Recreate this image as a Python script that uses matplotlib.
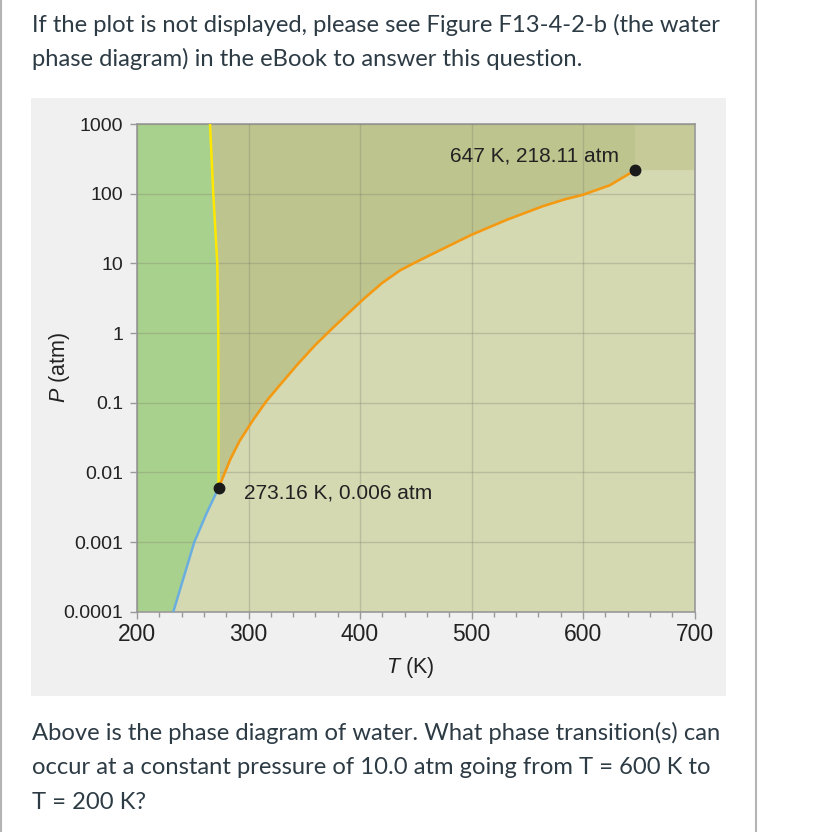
import numpy as np
import matplotlib.pyplot as plt
from matplotlib.patches import Rectangle
from matplotlib.lines import Line2D
from matplotlib.ticker import MultipleLocator, NullLocator, FixedLocator, FixedFormatter

plt.rcParams['mathtext.fontset'] = 'custom'
plt.rcParams['mathtext.it'] = 'Liberation Sans:italic'
plt.rcParams['mathtext.rm'] = 'Liberation Sans'

# phase boundaries (T in K, P in atm)
T_melt = [273.16, 273.1, 272.9, 272.0, 268.4, 265.5]
P_melt = [0.006, 0.1, 1, 10, 100, 1000]

T_sub = [273.16, 262.5, 251.4, 232.6]
P_sub = [0.006, 0.0026, 0.001, 0.0001]

T_vap = [273.16, 284, 292, 304, 316, 328, 344, 360, 376, 392, 404, 420, 436, 448,
         472, 500, 532, 564, 584, 600, 624, 647]
P_vap = [0.006, 0.0158, 0.0282, 0.0562, 0.105, 0.178, 0.355, 0.676, 1.20, 2.09, 3.16,
         5.25, 7.94, 10.0, 15.5, 25.7, 42.4, 66.1, 83.2, 96.4, 132, 218.11]

triple = (273.16, 0.006)
critical = (647, 218.11)

x_ticks = [200, 300, 400, 500, 600, 700]
y_ticks = [1e-4, 1e-3, 1e-2, 1e-1, 1, 10, 100, 1000]
y_labels = ['0.0001', '0.001', '0.01', '0.1', '1', '10', '100', '1000']

top_text = ["If the plot is not displayed, please see Figure F13-4-2-b (the water",
            "phase diagram) in the eBook to answer this question."]
bottom_text = ["Above is the phase diagram of water. What phase transition(s) can",
               "occur at a constant pressure of 10.0 atm going from T = 600 K to",
               "T = 200 K?"]

W, H = 826, 832
fig = plt.figure(figsize=(W / 100, H / 100), dpi=100)
fig.patch.set_facecolor('white')

# page borders and grey panel behind the chart
fig.add_artist(Line2D([1 / W, 1 / W], [0, 1], color='#b4b4b4', lw=1.5))
fig.add_artist(Line2D([756 / W, 756 / W], [0, 1], color='#b4b4b4', lw=1.5))
panel = Rectangle((31 / W, 1 - 696 / H), 695 / W, 598 / H,
                  transform=fig.transFigure, facecolor='#f0f0f0',
                  edgecolor='none', zorder=-5)
fig.add_artist(panel)

# page text
txt_kw = dict(fontsize=17.1, family='Lato', color='#2d3b45', va='baseline')
for s, yb in zip(top_text, [32, 66]):
    fig.text(32 / W, 1 - yb / H, s, **txt_kw)
for s, yb in zip(bottom_text, [740, 774, 809]):
    fig.text(32 / W, 1 - yb / H, s, **txt_kw)

ax = fig.add_axes([137 / W, 1 - 611.7 / H, 557.5 / W, 487.7 / H])
ax.set_facecolor('#d5d9b2')
ax.set_yscale('log')
ax.set_xlim(200, 700)
ax.set_ylim(1e-4, 1e3)

# solid region
sx = [200] + T_sub[::-1] + T_melt + [200]
sy = [1e-4] + P_sub[::-1] + P_melt + [1e3]
ax.fill(sx, sy, color='#a9d18e', lw=0, zorder=1)

# liquid region
lx = T_melt + [700, 700] + T_vap[::-1]
ly = P_melt + [1e3, critical[1]] + P_vap[::-1]
ax.fill(lx, ly, color='#bec48e', lw=0, zorder=1)

# supercritical corner
ax.add_patch(Rectangle((critical[0], critical[1]), 700 - critical[0], 1e3 - critical[1],
                       facecolor='#c6ca99', edgecolor='none', zorder=1))

ax.grid(True, which='major', color='#7a7a6a', alpha=0.3, lw=1)
ax.set_axisbelow(False)

ax.plot(T_melt, P_melt, color='#ffe800', lw=1.8, zorder=3)
ax.plot(T_sub, P_sub, color='#6aaee0', lw=1.8, zorder=3)
ax.plot(T_vap, P_vap, color='#f39a12', lw=1.9, zorder=3)
ax.plot(*triple, 'o', color='#1a1a1a', ms=7.5, zorder=4)
ax.plot(*critical, 'o', color='#1a1a1a', ms=7.5, zorder=4)

ax.annotate('273.16 K, 0.006 atm', triple, xytext=(18.5, -4), textcoords='offset points',
            fontsize=15, family='Liberation Sans', color='#222222', va='center', ha='left')
ax.annotate('647 K, 218.11 atm', critical, xytext=(-12, 10), textcoords='offset points',
            fontsize=15, family='Liberation Sans', color='#222222', va='center', ha='right')

ax.xaxis.set_major_locator(FixedLocator(x_ticks))
ax.xaxis.set_minor_locator(MultipleLocator(20))
ax.yaxis.set_major_locator(FixedLocator(y_ticks))
ax.yaxis.set_major_formatter(FixedFormatter(y_labels))
ax.yaxis.set_minor_locator(NullLocator())

for lab in ax.get_xticklabels():
    lab.set_family('Liberation Sans')
for lab in ax.get_yticklabels():
    lab.set_family('Liberation Sans')
ax.tick_params(axis='x', which='major', length=5, width=1, color='#999999',
               labelsize=16.5, labelcolor='#222222', pad=3)
ax.tick_params(axis='x', which='minor', length=3.5, width=1, color='#999999')
ax.tick_params(axis='y', which='major', length=5, width=1, color='#999999',
               labelsize=14, labelcolor='#222222', pad=5)

for sp in ax.spines.values():
    sp.set_color('#a0a0a0')
    sp.set_linewidth(1.3)

ax.set_xlabel('$\\it{T}$ (K)', fontsize=15.5, family='Liberation Sans', color='#222222')
ax.set_ylabel('$\\it{P}$ (atm)', fontsize=15.5, family='Liberation Sans', color='#222222')
ax.xaxis.set_label_coords(0.49, -0.088)
ax.yaxis.set_label_coords(-0.117, 0.5)

fig.savefig('out.png', dpi=100)
